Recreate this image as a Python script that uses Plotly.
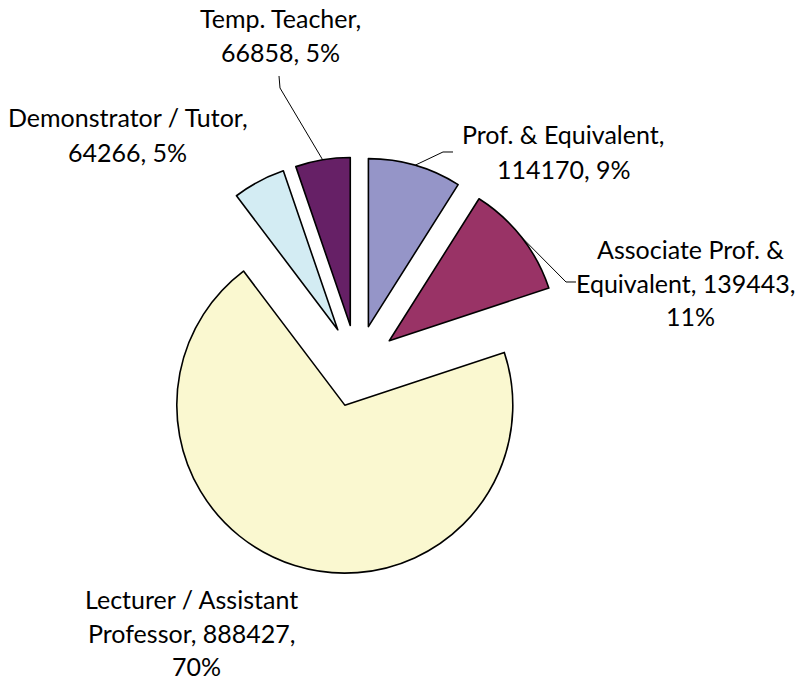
import math
import plotly.graph_objects as go

# ---- data ----
categories = ["Prof. & Equivalent", "Associate Prof. & Equivalent",
              "Lecturer / Assistant Professor", "Demonstrator / Tutor", "Temp. Teacher"]
values = [114170, 139443, 888427, 64266, 66858]
colors = ["#9595C8", "#993366", "#FAF8D0", "#D3ECF3", "#662066"]

# label text lines for each slice (Excel-style "name, value, pct")
label_lines = [
    ["Prof. & Equivalent,", "114170, 9%"],
    ["Associate Prof. &", "Equivalent, 139443,", "11%"],
    ["Lecturer / Assistant", "Professor, 888427,", "70%"],
    ["Demonstrator / Tutor,", "64266, 5%"],
    ["Temp. Teacher,", "66858, 5%"],
]
# label line centres (window pixels) for each slice
label_pos = [
    [(563, 134), (564, 169)],
    [(690, 249), (686, 283), (690, 316)],
    [(191, 599), (191, 633), (196, 666)],
    [(128, 117), (127, 152)],
    [(280, 18), (280, 52)],
]
# label-side end of leader line (None = no leader)
leader_start = [
    [(453, 152), (443, 152)],
    [(576, 282), (566, 282)],
    None,
    None,
    [(279, 76), (280, 88)],
]

W, H = 799, 684
PULL = 0.244
FONT = "Lato"
FSIZE = 25


def to_paper(px, py):
    return px / W, 1 - py / H


# pie box in window pixels: x 148..566, y 157..575
x0p, y1p = to_paper(148, 157)
x1p, y0p = to_paper(566, 575)
dom_x = [x0p, x1p]
dom_y = [y0p, y1p]

fig = go.Figure(go.Pie(
    labels=categories,
    values=values,
    sort=False,
    direction="clockwise",
    rotation=0,
    pull=[PULL] * len(values),
    marker=dict(colors=colors, line=dict(color="black", width=1.6)),
    textinfo="none",
    hoverinfo="label+value+percent",
    domain=dict(x=dom_x, y=dom_y),
    showlegend=False,
))

# geometry used by plotly for the pie (to place leader-line anchors), pixels
boxW = W * (dom_x[1] - dom_x[0])
boxH = H * (dom_y[1] - dom_y[0])
r = min(boxW, boxH) / (2 + 2 * PULL)
cx = W * (dom_x[0] + dom_x[1]) / 2
cy = H * (1 - dom_y[0]) - boxH / 2
total = sum(values)

annotations = []
shapes = []
cum = 0.0
for i, v in enumerate(values):
    mid = (cum + v / 2) / total * 2 * math.pi
    cum += v
    for txt, (lx, ly) in zip(label_lines[i], label_pos[i]):
        px, py = to_paper(lx, ly)
        annotations.append(dict(
            x=px, y=py, xref="paper", yref="paper", text=txt,
            showarrow=False, xanchor="center", yanchor="middle",
            font=dict(family=FONT, size=FSIZE, color="black"),
        ))
    if leader_start[i]:
        ax = cx + (1 + PULL) * r * math.sin(mid)
        ay = cy - (1 + PULL) * r * math.cos(mid)
        pts = leader_start[i] + [(ax, ay)]
        path = ""
        for k, (qx, qy) in enumerate(pts):
            p = to_paper(qx, qy)
            path += ("M" if k == 0 else " L") + f" {p[0]:.5f} {p[1]:.5f}"
        shapes.append(dict(type="path", xref="paper", yref="paper", path=path,
                           line=dict(color="black", width=1)))

fig.update_layout(
    width=W, height=H,
    margin=dict(l=0, r=0, t=0, b=0),
    paper_bgcolor="white",
    plot_bgcolor="white",
    annotations=annotations,
    shapes=shapes,
)

fig.write_html(
    "out.html",
    config={"displayModeBar": False},
    post_script="document.body.style.margin='0';document.body.style.overflow='hidden';",
)
